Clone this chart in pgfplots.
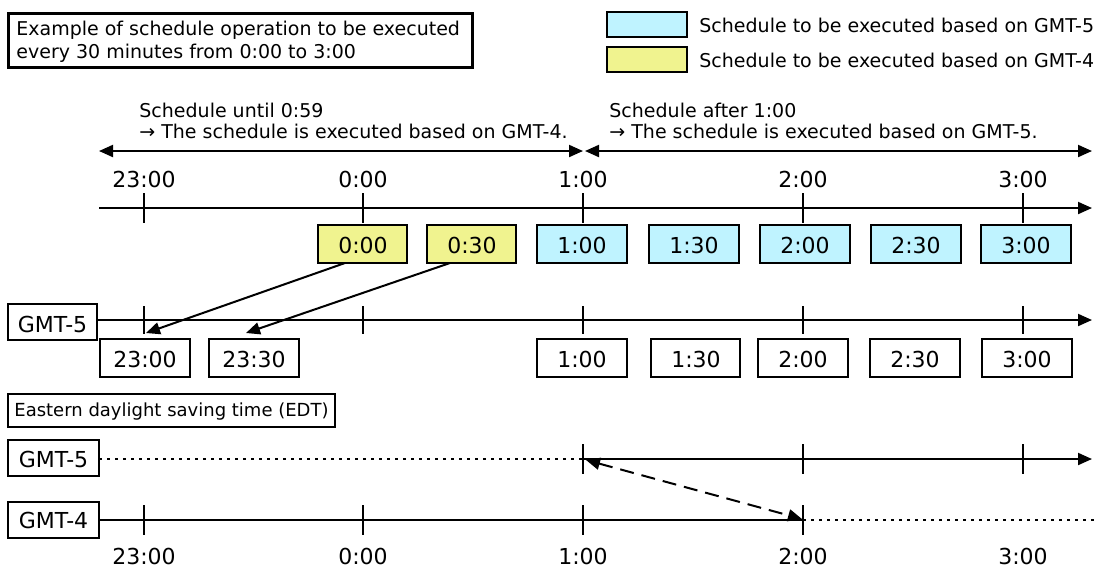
\documentclass[border=0pt]{standalone}
\usepackage{pgfplots}
\pgfplotsset{compat=1.18}
\usepackage{fontspec}
\setmainfont{DejaVu Sans}
\usetikzlibrary{arrows.meta}
\definecolor{cyanbox}{RGB}{191,243,255}
\definecolor{yellowbox}{RGB}{240,243,143}
\tikzset{
  tip/.style={-{Triangle[length=7pt,width=6pt]}},
  dtip/.style={{Triangle[length=7pt,width=6pt]}-{Triangle[length=7pt,width=6pt]}},
  sm/.style={font=\fontsize{9.5}{11}\selectfont, inner sep=0pt},
  lg/.style={font=\fontsize{11}{13}\selectfont, inner sep=0pt},
}
\begin{document}
\begin{tikzpicture}
\begin{axis}[
  width=549.5pt, height=285pt, scale only axis,
  xmin=0, xmax=1099, ymin=0, ymax=570, y dir=reverse,
  hide axis, clip=false,
  cycle list={{black,solid,mark=none}},
  every axis plot/.append style={line width=1pt, black, mark=none},
  unbounded coords=jump,
]
% bounding frame (invisible)
\addplot[draw=none] coordinates {(0,0) (1099,570)};
% ---------- title box ----------
\addplot[line width=1.5pt, fill=white] coordinates {(8,13) (472,13) (472,67) (8,67)} --cycle;
\node[sm, anchor=base west] at (axis cs:16,35) {Example of schedule operation to be executed};
\node[sm, anchor=base west] at (axis cs:16,58) {every 30 minutes from 0:00 to 3:00};
% ---------- legend ----------
\addplot[fill=cyanbox] coordinates {(607,12) (687,12) (687,37) (607,37)} --cycle;
\addplot[fill=yellowbox] coordinates {(607,47) (687,47) (687,72) (607,72)} --cycle;
\node[sm, anchor=base west] at (axis cs:699,32) {Schedule to be executed based on GMT-5};
\node[sm, anchor=base west] at (axis cs:699,67) {Schedule to be executed based on GMT-4};
% ---------- notes ----------
\node[sm, anchor=base west] at (axis cs:139,117) {Schedule until 0:59};
\node[sm, anchor=base west] at (axis cs:139,138) {\char"2192\ The schedule is executed based on GMT-4.};
\node[sm, anchor=base west] at (axis cs:609,117) {Schedule after 1:00};
\node[sm, anchor=base west] at (axis cs:609,138) {\char"2192\ The schedule is executed based on GMT-5.};
\addplot[dtip] coordinates {(99,151) (583,151)};
\addplot[dtip] coordinates {(585,151) (1092,151)};
% ---------- top time axis ----------
\foreach \x/\t in {144/23:00, 363/0:00, 583/1:00, 803/2:00, 1023/3:00}{
  \edef\tmp{\noexpand\node[lg, anchor=base] at (axis cs:\x,187) {\t};}\tmp
}
\addplot[tip] coordinates {(99,208) (1092,208)};
\addplot coordinates {(144,193) (144,223) (144,nan) (363,193) (363,223) (363,nan)
  (583,193) (583,223) (583,nan) (803,193) (803,223) (803,nan) (1023,193) (1023,223)};
% ---------- coloured schedule boxes ----------
\addplot[fill=yellowbox] coordinates {(318,225) (407,225) (407,263) (318,263)} --cycle;
\addplot[fill=yellowbox] coordinates {(427,225) (516,225) (516,263) (427,263)} --cycle;
\addplot[fill=cyanbox] coordinates {(537,225) (627,225) (627,263) (537,263)} --cycle;
\addplot[fill=cyanbox] coordinates {(649,225) (739,225) (739,263) (649,263)} --cycle;
\addplot[fill=cyanbox] coordinates {(760,225) (850,225) (850,263) (760,263)} --cycle;
\addplot[fill=cyanbox] coordinates {(871,225) (961,225) (961,263) (871,263)} --cycle;
\addplot[fill=cyanbox] coordinates {(981,225) (1071,225) (1071,263) (981,263)} --cycle;
\foreach \x/\t in {363/0:00, 472/0:30, 582/1:00, 694/1:30, 805/2:00, 916/2:30, 1026/3:00}{
  \edef\tmp{\noexpand\node[lg, anchor=base] at (axis cs:\x,253) {\t};}\tmp
}
% ---------- GMT-5 axis ----------
\addplot[fill=white] coordinates {(8,304) (97,304) (97,340) (8,340)} --cycle;
\node[lg, anchor=base] at (axis cs:52.5,332) {GMT-5};
\addplot[tip] coordinates {(97,320) (1092,320)};
\addplot coordinates {(144,306) (144,334) (144,nan) (363,306) (363,334) (363,nan)
  (583,306) (583,334) (583,nan) (803,306) (803,334) (803,nan) (1023,306) (1023,334)};
\addplot[tip] coordinates {(345,263) (146,333)};
\addplot[tip] coordinates {(450,263) (246,333)};
% ---------- lower white boxes ----------
\addplot[fill=white] coordinates {(100,339) (190,339) (190,377) (100,377)} --cycle;
\addplot[fill=white] coordinates {(209,339) (299,339) (299,377) (209,377)} --cycle;
\addplot[fill=white] coordinates {(537,339) (627,339) (627,377) (537,377)} --cycle;
\addplot[fill=white] coordinates {(651,339) (740,339) (740,377) (651,377)} --cycle;
\addplot[fill=white] coordinates {(758,339) (848,339) (848,377) (758,377)} --cycle;
\addplot[fill=white] coordinates {(870,339) (960,339) (960,377) (870,377)} --cycle;
\addplot[fill=white] coordinates {(982,339) (1072,339) (1072,377) (982,377)} --cycle;
\foreach \x/\t in {145/23:00, 254/23:30, 582/1:00, 696/1:30, 803/2:00, 915/2:30, 1027/3:00}{
  \edef\tmp{\noexpand\node[lg, anchor=base] at (axis cs:\x,367) {\t};}\tmp
}
% ---------- EDT ----------
\addplot[fill=white] coordinates {(8,394) (335,394) (335,427) (8,427)} --cycle;
\node[font=\fontsize{9}{10}\selectfont, inner sep=0pt, anchor=base west] at (axis cs:14,416) {Eastern daylight saving time (EDT)};
% GMT-5 (EDT)
\addplot[fill=white] coordinates {(8,440) (99,440) (99,476) (8,476)} --cycle;
\node[lg, anchor=base] at (axis cs:53.5,467) {GMT-5};
\addplot[dash pattern=on 1.3pt off 2.7pt] coordinates {(99,459) (583,459)};
\addplot[tip] coordinates {(583,459) (1092,459)};
\addplot coordinates {(583,444) (583,474) (583,nan) (803,444) (803,474) (803,nan) (1023,444) (1023,474)};
% GMT-4 (EDT)
\addplot[fill=white] coordinates {(8,502) (99,502) (99,538) (8,538)} --cycle;
\node[lg, anchor=base] at (axis cs:53.5,528) {GMT-4};
\addplot coordinates {(99,520) (803,520)};
\addplot[dash pattern=on 1.3pt off 2.7pt] coordinates {(803,520) (1097,520)};
\addplot coordinates {(144,505) (144,535) (144,nan) (363,505) (363,535) (363,nan)
  (583,505) (583,535) (583,nan) (803,505) (803,535)};
\addplot[dtip, dash pattern=on 7pt off 4pt] coordinates {(586,460) (802,519)};
\foreach \x/\t in {144/23:00, 363/0:00, 583/1:00, 803/2:00, 1023/3:00}{
  \edef\tmp{\noexpand\node[lg, anchor=base] at (axis cs:\x,564) {\t};}\tmp
}
\end{axis}
\end{tikzpicture}
\end{document}
